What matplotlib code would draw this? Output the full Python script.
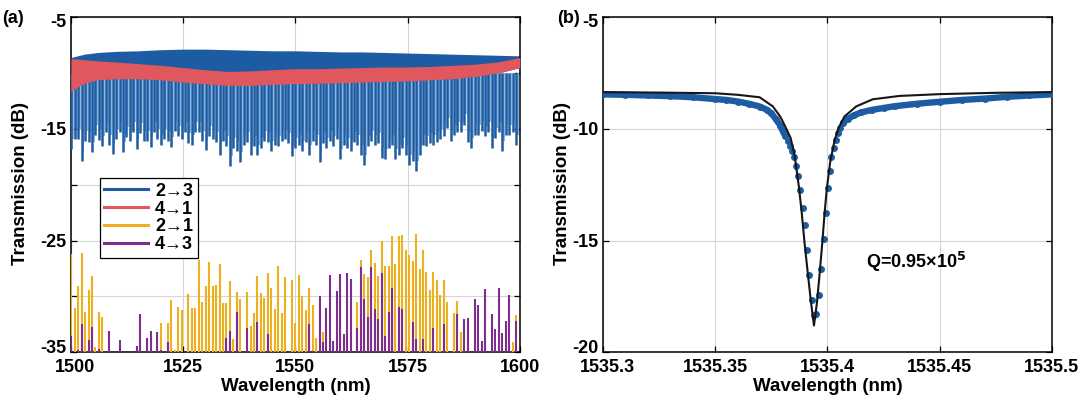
import numpy as np
import matplotlib.pyplot as plt
from matplotlib.lines import Line2D
from matplotlib.transforms import ScaledTranslation

plt.rcParams['font.family'] = ['Liberation Sans', 'DejaVu Sans']
plt.rcParams['font.weight'] = 'bold'
plt.rcParams['axes.unicode_minus'] = False

nan = np.nan

# ---- panel (a): broadband spectra, one entry per ring resonance ----
res_wl = [
    1500.07, 1500.84, 1501.61, 1502.37, 1503.14, 1503.91, 1504.68, 1505.45, 1506.21, 1506.98,
    1507.75, 1508.52, 1509.29, 1510.05, 1510.82, 1511.59, 1512.36, 1513.13, 1513.89, 1514.66,
    1515.43, 1516.20, 1516.97, 1517.73, 1518.50, 1519.27, 1520.04, 1520.81, 1521.57, 1522.34,
    1523.11, 1523.88, 1524.65, 1525.41, 1526.18, 1526.95, 1527.72, 1528.49, 1529.25, 1530.02,
    1530.79, 1531.56, 1532.33, 1533.09, 1533.86, 1534.63, 1535.40, 1536.17, 1536.93, 1537.70,
    1538.47, 1539.24, 1540.01, 1540.77, 1541.54, 1542.31, 1543.08, 1543.85, 1544.61, 1545.38,
    1546.15, 1546.92, 1547.69, 1548.45, 1549.22, 1549.99, 1550.76, 1551.53, 1552.29, 1553.06,
    1553.83, 1554.60, 1555.37, 1556.13, 1556.90, 1557.67, 1558.44, 1559.21, 1559.97, 1560.74,
    1561.51, 1562.28, 1563.05, 1563.81, 1564.58, 1565.35, 1566.12, 1566.89, 1567.65, 1568.42,
    1569.19, 1569.96, 1570.73, 1571.49, 1572.26, 1573.03, 1573.80, 1574.57, 1575.33, 1576.10,
    1576.87, 1577.64, 1578.41, 1579.17, 1579.94, 1580.71, 1581.48, 1582.25, 1583.01, 1583.78,
    1584.55, 1585.32, 1586.09, 1586.85, 1587.62, 1588.39, 1589.16, 1589.93, 1590.69, 1591.46,
    1592.23, 1593.00, 1593.77, 1594.53, 1595.30, 1596.07, 1596.84, 1597.61, 1598.37, 1599.14,
]

# 2->3 (through) dip minima
thru_dip = [
    -16.8, -15.9, -15.9, -17.9, -16.1, -16.2, -17.1, -15.5, -16.0, -16.5,
    -15.3, -16.4, -17.2, -15.9, -15.3, -17.1, -15.7, -16.1, -15.3, -16.8,
    -15.4, -16.1, -16.1, -16.6, -15.3, -15.9, -16.4, -15.9, -16.1, -16.6,
    -15.2, -15.6, -15.9, -15.3, -16.3, -16.4, -15.3, -15.3, -16.1, -16.9,
    -15.6, -15.9, -16.2, -17.3, -16.1, -16.5, -18.3, -16.7, -17.0, -18.0,
    -16.4, -16.2, -17.3, -16.5, -17.3, -16.7, -16.1, -16.2, -17.0, -16.4,
    -16.5, -16.1, -15.9, -16.3, -17.4, -16.7, -16.4, -17.0, -16.2, -17.3,
    -16.1, -16.4, -18.0, -16.3, -16.7, -16.1, -16.5, -15.9, -17.7, -16.4,
    -16.7, -17.0, -16.2, -16.4, -17.3, -18.2, -16.5, -16.1, -16.4, -16.3,
    -17.6, -17.7, -16.7, -16.4, -17.7, -17.3, -16.7, -17.3, -18.2, -17.9,
    -18.8, -17.3, -16.4, -16.5, -16.3, -16.4, -16.2, -15.9, -15.6, -14.9,
    -16.1, -15.5, -15.3, -15.3, -14.6, -16.2, -16.7, -15.5, -15.5, -15.2,
    -15.6, -15.3, -16.7, -15.8, -15.3, -17.0, -15.5, -15.5, -15.3, -16.4,
]

# 2->1 crosstalk peaks (nan = below the axis)
cross21_peak = [
    -26.2, -31.0, -29.1, -26.1, -31.4, -29.4, -28.2, -34.5, -31.4, -31.8,
    nan, nan, nan, nan, nan, nan, nan, nan, nan, nan,
    nan, nan, nan, nan, nan, nan, -32.4, nan, -32.4, -30.3,
    -34.8, -30.9, -31.2, nan, -29.8, -31.0, -31.0, -26.7, -30.5, -29.1,
    -26.9, -29.1, -29.0, -27.1, -30.6, -30.6, -28.6, -33.8, -29.6, -30.2,
    nan, -29.6, -32.6, -31.5, -28.2, -29.7, -30.1, -27.9, -29.2, -31.1,
    -27.3, -31.5, -28.3, nan, -28.5, -32.4, -28.1, -30.0, -31.2, -29.2,
    -30.8, -33.7, nan, -33.2, nan, nan, nan, nan, nan, nan,
    nan, nan, nan, -30.5, -26.7, -28.0, -28.3, -25.8, -27.0, -28.2,
    -25.0, -27.3, -27.3, -24.6, -27.1, -24.6, -24.5, -25.8, -26.3, -26.8,
    -24.4, -27.5, -25.8, -27.8, -29.4, -27.8, -28.5, -29.9, -28.5, -30.5,
    nan, -31.5, -30.4, -33.2, nan, nan, nan, nan, nan, nan,
    nan, nan, nan, nan, nan, nan, nan, nan, -34.1, -31.7,
]

# 4->3 crosstalk peaks
cross43_peak = [
    -33.5, nan, -34.8, -32.5, nan, -33.9, -32.7, nan, -34.7, nan,
    nan, -33.1, nan, nan, -33.9, nan, nan, nan, nan, -34.4,
    -31.6, nan, -33.7, -33.1, nan, -33.2, -34.8, nan, -34.1, nan,
    nan, nan, nan, nan, nan, nan, nan, nan, nan, nan,
    nan, nan, nan, nan, nan, -33.7, -33.1, nan, -31.4, nan,
    nan, -32.8, nan, nan, -32.3, nan, nan, -33.4, nan, nan,
    nan, nan, nan, nan, nan, nan, nan, nan, nan, -32.5,
    -34.9, nan, -30.0, -34.1, -31.0, -28.1, -34.0, -29.5, -28.0, -33.4,
    -27.9, -28.4, nan, -32.8, -27.4, -30.2, -31.8, -27.4, -31.1, -32.0,
    -27.9, -33.5, -31.4, -29.2, nan, -30.9, -31.1, nan, nan, -32.3,
    -33.8, nan, -33.8, nan, nan, -32.8, nan, nan, -32.5, nan,
    nan, nan, -31.6, nan, -32.0, -31.9, nan, -30.2, -30.8, -34.0,
    -29.3, nan, -31.6, -32.9, -29.2, -33.3, -32.2, -29.9, nan, -32.2,
]

# envelopes of the upper (off-resonance) parts of 2->3 and 4->1
env_wl = [1500, 1503, 1506, 1510, 1515, 1520, 1525, 1530, 1535, 1540, 1545,
          1550, 1555, 1560, 1565, 1570, 1575, 1580, 1585, 1590, 1595, 1600]
thru_top = [-8.6, -8.3, -8.15, -8.05, -8.0, -7.9, -7.85, -7.85, -7.9, -7.95, -8.0,
            -8.0, -8.05, -8.1, -8.1, -8.15, -8.2, -8.25, -8.3, -8.35, -8.4, -8.45]
drop_top = [-8.7, -8.8, -8.9, -9.0, -9.15, -9.3, -9.5, -9.7, -9.85, -9.8, -9.7,
            -9.6, -9.6, -9.55, -9.5, -9.45, -9.45, -9.4, -9.3, -9.2, -9.0, -8.6]
drop_bottom = [-11.6, -10.9, -10.6, -10.5, -10.5, -10.6, -10.8, -10.95, -11.1, -11.1, -11.0,
               -10.95, -10.9, -10.85, -10.8, -10.75, -10.7, -10.6, -10.5, -10.3, -10.0, -9.5]

# ---- panel (b): single resonance ----
meas_wl = [
    1535.300, 1535.310, 1535.320, 1535.330, 1535.340, 1535.350, 1535.355, 1535.360,
    1535.365, 1535.370, 1535.373, 1535.375, 1535.377, 1535.379,
    1535.3802, 1535.3813, 1535.3824, 1535.3834, 1535.3843, 1535.3849, 1535.3858,
    1535.3868, 1535.3879, 1535.3891, 1535.3898, 1535.3908, 1535.3920, 1535.3929,
    1535.3940, 1535.3950, 1535.3962, 1535.3972, 1535.3983, 1535.3992, 1535.4002,
    1535.4011, 1535.4018, 1535.4027, 1535.4039, 1535.4046, 1535.4057, 1535.4069,
    1535.409, 1535.412, 1535.415, 1535.420, 1535.425, 1535.430, 1535.440, 1535.450,
    1535.460, 1535.470, 1535.480, 1535.490, 1535.500,
]
meas_db = [
    -8.45, -8.47, -8.50, -8.53, -8.58, -8.66, -8.70, -8.77,
    -8.87, -9.00, -9.14, -9.30, -9.55, -9.85,
    -10.11, -10.33, -10.55, -10.77, -11.00, -11.25, -11.66,
    -12.11, -12.73, -13.52, -14.31, -15.40, -16.53, -17.68,
    -18.31, -18.27, -17.45, -16.27, -14.93, -13.74, -12.66,
    -11.89, -11.25, -10.85, -10.48, -10.18, -9.96, -9.73,
    -9.55, -9.38, -9.26, -9.14, -9.06, -8.98, -8.87, -8.78,
    -8.70, -8.64, -8.56, -8.50, -8.45,
]
fit_wl = [
    1535.3000, 1535.3250, 1535.3500, 1535.3600, 1535.3698, 1535.3757, 1535.3790,
    1535.3810, 1535.3836, 1535.3854, 1535.3873, 1535.3886, 1535.3898, 1535.3913,
    1535.3926, 1535.3940, 1535.3953, 1535.3965, 1535.3977, 1535.3987, 1535.3997,
    1535.4012, 1535.4032, 1535.4050, 1535.4076, 1535.4128, 1535.4202, 1535.4321,
    1535.4500, 1535.4750, 1535.5000,
]
fit_db = [
    -8.35, -8.37, -8.40, -8.47, -8.58, -8.99, -9.45,
    -9.85, -10.40, -11.20, -12.60, -13.80, -15.10, -16.50,
    -17.70, -18.80, -17.80, -16.50, -15.10, -13.80, -12.70,
    -11.50, -10.50, -9.95, -9.44, -8.99, -8.67, -8.52,
    -8.44, -8.38, -8.35,
]

BLUE = '#1d5ca3'
LIGHT_BLUE = '#86b2df'
RED = '#e0585e'
YELLOW = '#edb120'
PURPLE = '#7e2f8e'
GRID = '#d6d6d6'


def style_axes(ax):
    ax.grid(True, color=GRID, lw=0.8)
    ax.set_axisbelow(True)
    ax.tick_params(direction='in', top=True, right=True, length=4, width=0.9,
                   labelsize=13, pad=5)
    ax.tick_params(axis='y', pad=3)
    for spine in ax.spines.values():
        spine.set_linewidth(1.1)


def nudge(label, dx, dy):
    # shift a tick label by (dx, dy) pixels
    label.set_transform(label.get_transform()
                        + ScaledTranslation(dx / 100, dy / 100, fig.dpi_scale_trans))


fig = plt.figure(figsize=(10.8, 3.98), dpi=100)
ax_a = fig.add_axes([0.0657, 0.1148, 0.4157, 0.8417])
ax_b = fig.add_axes([0.5583, 0.1148, 0.4157, 0.8417])

# panel (a)
wl = np.array(res_wl)
dip = np.array(thru_dip)
c21 = np.array(cross21_peak)
c43 = np.array(cross43_peak)

ax_a.fill_between(env_wl, thru_top, drop_bottom, color=BLUE, lw=0, zorder=2)
ax_a.vlines(wl + 0.38, -10.0, dip + 0.9, color=LIGHT_BLUE, lw=1.4, zorder=2)
ax_a.vlines(wl, -10.0, dip, color=BLUE, lw=1.8, zorder=3)
ax_a.fill_between(env_wl, drop_top, drop_bottom, color=RED, lw=0, zorder=4)
m21 = ~np.isnan(c21)
ax_a.vlines(wl[m21], -40, c21[m21], color=YELLOW, lw=1.5, zorder=5)
m43 = ~np.isnan(c43)
ax_a.vlines(wl[m43], -40, c43[m43], color=PURPLE, lw=1.5, zorder=6)

ax_a.set_xlim(1500, 1600)
ax_a.set_ylim(-35, -5)
ax_a.set_xticks([1500, 1525, 1550, 1575, 1600])
ax_a.set_yticks([-35, -30, -25, -20, -15, -10, -5])
ax_a.set_yticklabels(['-35', '', '-25', '', '-15', '', '-5'])
style_axes(ax_a)
ax_a.set_xlabel('Wavelength (nm)', fontsize=13.5, fontweight='bold', labelpad=1)

handles = [Line2D([], [], color=c, lw=2.2) for c in (BLUE, RED, YELLOW, PURPLE)]
leg = ax_a.legend(handles, ['2→3', '4→1', '2→1', '4→3'], loc='upper left',
                  bbox_to_anchor=(0.0646, 0.52), borderaxespad=0, fancybox=False,
                  framealpha=1, edgecolor='black', fontsize=13, handlelength=2.4,
                  handletextpad=0.4, labelspacing=0.05, borderpad=0.25)
leg.get_frame().set_linewidth(0.9)
leg.set_zorder(10)

# panel (b)
mwl = np.array(meas_wl)
mdb = np.array(meas_db)
band = np.where(np.abs(mwl - 1535.394) > 0.012, mdb, np.nan)
ax_b.plot(mwl, band, color=BLUE, lw=4.6, solid_capstyle='round', zorder=3)
ax_b.plot(mwl, mdb, 'o', color=BLUE, ms=5.0, mew=0, zorder=3)
ax_b.plot(fit_wl, fit_db, color='#161616', lw=1.5, zorder=4)
ax_b.text(1535.4173, -15.95, 'Q=0.95×10$^{\\mathbf{5}}$', fontsize=13, fontweight='bold',
          va='center', ha='left')

ax_b.set_xlim(1535.3, 1535.5)
ax_b.set_ylim(-20, -5)
ax_b.set_xticks([1535.3, 1535.35, 1535.4, 1535.45, 1535.5])
ax_b.set_xticklabels(['1535.3', '1535.35', '1535.4', '1535.45', '1535.5'])
ax_b.set_yticks([-20, -15, -10, -5])
style_axes(ax_b)
ax_b.set_xlabel('Wavelength (nm)', fontsize=13.5, fontweight='bold', labelpad=1)

for ax in (ax_a, ax_b):
    yt = ax.yaxis.get_major_ticks()
    nudge(yt[0].label1, 0, 6)
    nudge(yt[-1].label1, 0, -3)
    xt = ax.xaxis.get_major_ticks()
    nudge(xt[0].label1, 4, 0)

fig.text(0.002, 0.975, '(a)', fontsize=13, fontweight='bold', va='top', ha='left')
fig.text(0.516, 0.975, '(b)', fontsize=13, fontweight='bold', va='top', ha='left')
fig.text(0.019, 0.54, 'Transmission (dB)', fontsize=13.5, fontweight='bold',
         rotation=90, va='center', ha='center')
fig.text(0.521, 0.54, 'Transmission (dB)', fontsize=13.5, fontweight='bold',
         rotation=90, va='center', ha='center')

fig.savefig('out.png', dpi=100)
plt.close(fig)
